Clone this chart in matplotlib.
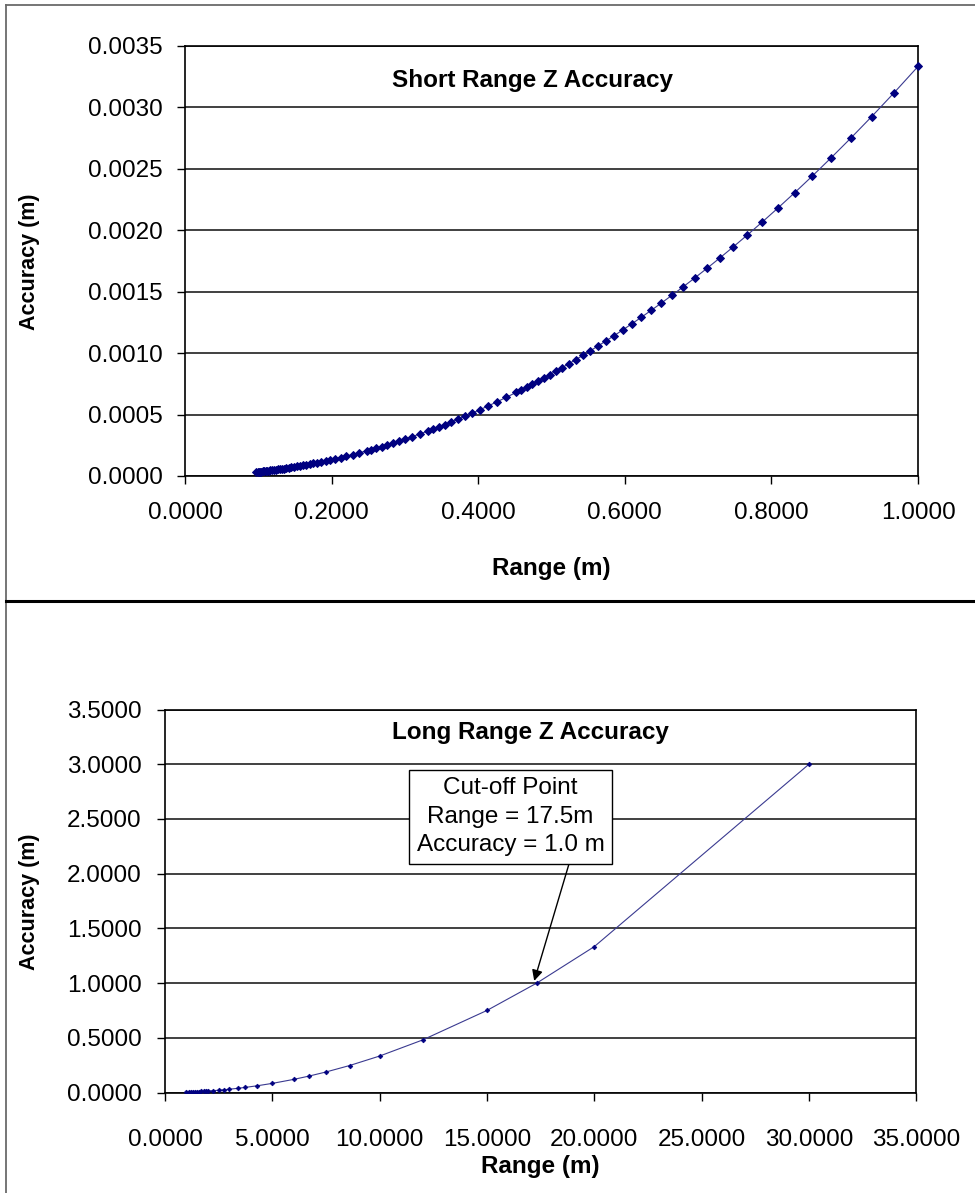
import matplotlib
matplotlib.use("Agg")
import matplotlib.pyplot as plt
from matplotlib.lines import Line2D
from matplotlib.ticker import FormatStrFormatter, MultipleLocator

plt.rcParams['font.family'] = ['Liberation Sans', 'DejaVu Sans']

# ---- Short range series (m) ----
short_range = [
    1.0000, 0.9674, 0.9369, 0.9082, 0.8812, 0.8558, 0.8318, 0.8091, 0.7876, 0.7673,
    0.7479, 0.7296, 0.7120, 0.6954, 0.6794, 0.6642, 0.6497, 0.6358, 0.6224, 0.6096,
    0.5974, 0.5856, 0.5742, 0.5634, 0.5529, 0.5427, 0.5330, 0.5236, 0.5145, 0.5057,
    0.4973, 0.4891, 0.4811, 0.4735, 0.4660, 0.4588, 0.4518, 0.4385, 0.4259, 0.4140,
    0.4028, 0.3921, 0.3820, 0.3724, 0.3633, 0.3546, 0.3464, 0.3385, 0.3309, 0.3202,
    0.3102, 0.3007, 0.2919, 0.2835, 0.2756, 0.2681, 0.2610, 0.2543, 0.2480, 0.2380,
    0.2288, 0.2203, 0.2124, 0.2051, 0.1983, 0.1918, 0.1858, 0.1802, 0.1749, 0.1699,
    0.1652, 0.1607, 0.1564, 0.1524, 0.1486, 0.1450, 0.1415, 0.1382, 0.1351, 0.1321,
    0.1292, 0.1264, 0.1238, 0.1213, 0.1188, 0.1165, 0.1143, 0.1121, 0.1100, 0.1080,
    0.1061, 0.1042, 0.1024, 0.1007, 0.0990, 0.0971,
]
short_accuracy = [
    0.0033333, 0.0031195, 0.0029259, 0.0027494, 0.0025884, 0.0024413, 0.0023063, 0.0021821, 0.0020677, 0.0019625,
    0.0018645, 0.0017744, 0.0016898, 0.0016119, 0.0015386, 0.0014705, 0.0014070, 0.0013475, 0.0012913, 0.0012387,
    0.0011896, 0.0011431, 0.0010990, 0.0010581, 0.0010190, 0.0009817, 0.0009470, 0.0009139, 0.0008824, 0.0008524,
    0.0008244, 0.0007974, 0.0007715, 0.0007473, 0.0007239, 0.0007017, 0.0006804, 0.0006409, 0.0006046, 0.0005713,
    0.0005408, 0.0005125, 0.0004864, 0.0004623, 0.0004400, 0.0004191, 0.0004000, 0.0003819, 0.0003650, 0.0003418,
    0.0003207, 0.0003014, 0.0002840, 0.0002679, 0.0002532, 0.0002396, 0.0002271, 0.0002156, 0.0002050, 0.0001888,
    0.0001745, 0.0001618, 0.0001504, 0.0001402, 0.0001311, 0.0001226, 0.0001151, 0.0001082, 0.0001020, 0.0000962,
    0.0000910, 0.0000861, 0.0000815, 0.0000774, 0.0000736, 0.0000701, 0.0000667, 0.0000637, 0.0000608, 0.0000582,
    0.0000556, 0.0000533, 0.0000511, 0.0000490, 0.0000470, 0.0000452, 0.0000435, 0.0000419, 0.0000403, 0.0000389,
    0.0000375, 0.0000362, 0.0000350, 0.0000338, 0.0000327, 0.0000314,
]

# ---- Long range series (m) ----
long_range = [
    1.0, 1.1, 1.2, 1.3, 1.4, 1.5, 1.6, 1.7, 1.8, 1.9, 2.0, 2.25, 2.5, 2.75, 3.0,
    3.4, 3.75, 4.3, 5.0, 6.0, 6.7, 7.5, 8.6, 10.0, 12.0, 15.0, 17.32, 20.0, 30.0,
]
long_accuracy = [
    0.0033, 0.0040, 0.0048, 0.0056, 0.0065, 0.0075, 0.0085, 0.0096, 0.0108, 0.0120,
    0.0133, 0.0169, 0.0208, 0.0252, 0.0300, 0.0385, 0.0469, 0.0616, 0.0833, 0.1200,
    0.1496, 0.1875, 0.2465, 0.3333, 0.4800, 0.7500, 1.0000, 1.3333, 3.0000,
]

cutoff_range = 17.32
cutoff_accuracy = 1.0
cutoff_text = "Cut-off Point\nRange = 17.5m\nAccuracy = 1.0 m"

W, H = 975, 1193
fig = plt.figure(figsize=(W / 100, H / 100), dpi=100)
fig.patch.set_facecolor("white")

NAVY = "#000080"
TICK_FS = 17.5
LABEL_FS = 17.5


def px_axes(left, top, right, bottom):
    return fig.add_axes([left / W, 1 - bottom / H, (right - left) / W, (bottom - top) / H])


def style_axes(ax, ypad, xpad):
    for s in ax.spines.values():
        s.set_color("black")
        s.set_linewidth(1.2)
    ax.yaxis.grid(True, color="#202020", linewidth=1.2)
    ax.set_axisbelow(True)
    ax.tick_params(axis="both", which="major", direction="out", length=6, width=1,
                   labelsize=TICK_FS, top=False, right=False, colors="black")
    ax.tick_params(axis="y", pad=ypad)
    ax.tick_params(axis="x", pad=xpad)


# ---------- upper chart ----------
ax1 = px_axes(185, 46, 918, 476)
ax1.plot(short_range, short_accuracy, color="#3a3a90", linewidth=0.8, zorder=3, clip_on=False)
ax1.plot(short_range, short_accuracy, linestyle="none", marker="D",
         markersize=4.0, markerfacecolor=NAVY, markeredgecolor=NAVY, markeredgewidth=0.7,
         clip_on=False, zorder=4)
ax1.set_xlim(0, 1.0)
ax1.set_ylim(0, 0.0035)
ax1.xaxis.set_major_locator(MultipleLocator(0.2))
ax1.yaxis.set_major_locator(MultipleLocator(0.0005))
ax1.xaxis.set_major_formatter(FormatStrFormatter("%.4f"))
ax1.yaxis.set_major_formatter(FormatStrFormatter("%.4f"))
style_axes(ax1, ypad=10, xpad=13)

# ---------- lower chart ----------
ax2 = px_axes(165, 709.5, 916.3, 1092.5)
ax2.plot(long_range, long_accuracy, color="#3a3a90", linewidth=0.8, zorder=3)
ax2.plot(long_range, long_accuracy, linestyle="none", marker="D",
         markersize=2.4, markerfacecolor=NAVY, markeredgecolor=NAVY, markeredgewidth=0.5,
         zorder=4)
ax2.set_xlim(0, 35)
ax2.set_ylim(0, 3.5)
ax2.xaxis.set_major_locator(MultipleLocator(5))
ax2.yaxis.set_major_locator(MultipleLocator(0.5))
ax2.xaxis.set_major_formatter(FormatStrFormatter("%.4f"))
ax2.yaxis.set_major_formatter(FormatStrFormatter("%.4f"))
style_axes(ax2, ypad=11, xpad=20)

# cut-off callout
ax2.text(16.1, 2.518, cutoff_text, ha="center", va="center", fontsize=LABEL_FS,
         linespacing=1.38, zorder=5,
         bbox=dict(boxstyle="square,pad=0.3", facecolor="white", edgecolor="black", linewidth=1.0))
ax2.annotate("", xy=(cutoff_range - 0.12, cutoff_accuracy + 0.02), xytext=(18.86, 2.115),
             arrowprops=dict(arrowstyle="-|>", color="black", lw=1.0, mutation_scale=16,
                             shrinkA=0, shrinkB=0), zorder=4)


def ftext(x, y, s, **kw):
    fig.text(x / W, 1 - y / H, s, **kw)


# titles and axis labels
ftext(533, 80, "Short Range Z Accuracy", ha="center", va="center", fontsize=LABEL_FS, fontweight="bold")
ftext(530, 733, "Long Range Z Accuracy", ha="center", va="center", fontsize=LABEL_FS, fontweight="bold")
ftext(551, 568, "Range (m)", ha="center", va="center", fontsize=LABEL_FS, fontweight="bold")
ftext(540, 1167, "Range (m)", ha="center", va="center", fontsize=LABEL_FS, fontweight="bold")
ftext(30, 262, "Accuracy (m)", ha="center", va="center", rotation=90, fontsize=15.5, fontweight="bold")
ftext(30, 902, "Accuracy (m)", ha="center", va="center", rotation=90, fontsize=15.5, fontweight="bold")

# page frame and separator between the two charts
fig.add_artist(Line2D([6 / W, 6 / W], [0, 1 - 4.5 / H], transform=fig.transFigure,
                      color="#6a6a6a", linewidth=1.3))
fig.add_artist(Line2D([6 / W, 1], [1 - 4.5 / H, 1 - 4.5 / H], transform=fig.transFigure,
                      color="#6a6a6a", linewidth=1.3))
fig.add_artist(Line2D([6 / W, 1], [1 - 600.7 / H, 1 - 600.7 / H], transform=fig.transFigure,
                      color="black", linewidth=2.2))

fig.savefig("out.png", dpi=100, facecolor="white")
